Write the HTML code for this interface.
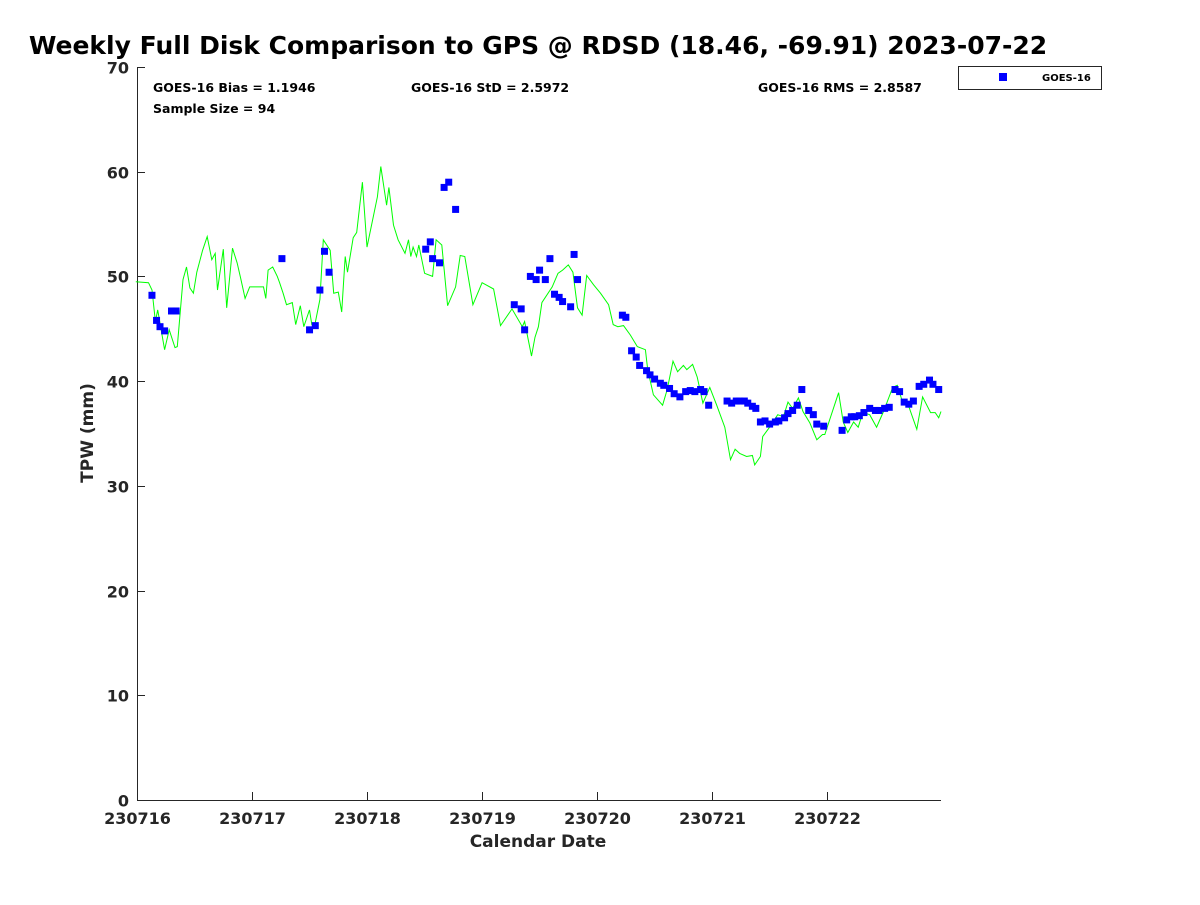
<!DOCTYPE html>
<html><head><meta charset="utf-8"><style>
body{margin:0;background:#fff;}
svg text{font-family:"DejaVu Sans","Liberation Sans",sans-serif;font-weight:bold;fill:#262626;}
</style></head><body>
<svg id="chart" width="1200" height="900" viewBox="0 0 1200 900" xmlns="http://www.w3.org/2000/svg">
<rect width="1200" height="900" fill="#fff"/>
<text x="538" y="54" text-anchor="middle" font-size="25" style="fill:#000">Weekly Full Disk Comparison to GPS @ RDSD (18.46, -69.91) 2023-07-22</text>
<g id="axes"></g>
<text x="153" y="92" font-size="12.5" style="fill:#000">GOES-16 Bias = 1.1946</text>
<text x="153" y="113" font-size="12.5" style="fill:#000">Sample Size = 94</text>
<text x="411" y="92" font-size="12.5" style="fill:#000">GOES-16 StD = 2.5972</text>
<text x="758" y="92" font-size="12.5" style="fill:#000">GOES-16 RMS = 2.8587</text>
<g>
<rect x="958.5" y="66.5" width="143" height="23" fill="#fff" stroke="#262626" stroke-width="1"/>
<rect x="999" y="73" width="8" height="8" fill="#0000ff"/>
<text x="1042" y="81" font-size="10" style="fill:#000">GOES-16</text>
</g>
<text x="538" y="847" text-anchor="middle" font-size="17">Calendar Date</text>
<text transform="translate(93,433) rotate(-90)" text-anchor="middle" font-size="17">TPW (mm)</text>
</svg>
<script>
const xTickLabels=["230716","230717","230718","230719","230720","230721","230722"];
const yTicks=[0,10,20,30,40,50,60,70];
const gpsDays=[-0.01,0.10,0.13,0.16,0.18,0.24,0.28,0.33,0.35,0.40,0.43,0.46,0.49,0.52,0.57,0.61,0.65,0.68,0.70,0.75,0.78,0.83,0.87,0.90,0.94,0.98,1.10,1.12,1.14,1.18,1.22,1.24,1.27,1.30,1.35,1.38,1.42,1.45,1.50,1.52,1.55,1.59,1.62,1.68,1.71,1.75,1.78,1.81,1.83,1.88,1.91,1.96,2.00,2.09,2.12,2.17,2.19,2.23,2.27,2.33,2.36,2.38,2.40,2.43,2.45,2.50,2.57,2.60,2.65,2.70,2.77,2.81,2.85,2.92,3.00,3.10,3.16,3.26,3.35,3.37,3.43,3.46,3.49,3.52,3.61,3.66,3.70,3.75,3.79,3.83,3.87,3.91,3.97,4.03,4.10,4.14,4.18,4.23,4.29,4.35,4.42,4.44,4.49,4.57,4.61,4.66,4.70,4.75,4.78,4.83,4.87,4.92,4.98,5.04,5.11,5.16,5.20,5.24,5.30,5.35,5.37,5.42,5.44,5.50,5.57,5.62,5.66,5.70,5.75,5.79,5.85,5.91,5.96,5.98,6.10,6.14,6.18,6.23,6.27,6.31,6.37,6.43,6.49,6.57,6.61,6.65,6.70,6.78,6.83,6.90,6.94,6.97,6.99];
const gpsTpw=[49.5,49.4,48.7,45.7,46.8,43.0,44.9,43.2,43.3,49.7,50.9,48.9,48.4,50.4,52.5,53.8,51.6,52.2,48.7,52.6,47.0,52.7,51.3,49.9,47.9,49.0,49.0,47.9,50.6,50.9,50.0,49.4,48.4,47.3,47.5,45.4,47.2,45.2,46.8,45.4,45.6,47.8,53.5,52.5,48.4,48.5,46.6,51.9,50.4,53.7,54.2,59.0,52.8,57.6,60.5,56.8,58.5,54.9,53.5,52.2,53.5,51.9,52.8,51.9,53.0,50.3,50.0,53.5,53.0,47.2,49.0,52.0,51.9,47.3,49.4,48.8,45.3,46.9,45.2,45.7,42.4,44.2,45.2,47.5,49.0,50.3,50.6,51.1,50.4,47.0,46.3,50.1,49.2,48.4,47.3,45.4,45.2,45.3,44.4,43.3,43.0,41.1,38.7,37.7,39.2,41.9,40.9,41.5,41.1,41.6,40.4,37.9,39.4,37.7,35.6,32.5,33.5,33.1,32.8,32.9,32.0,32.8,34.7,35.6,36.8,36.6,38.0,37.4,38.4,37.1,36.0,34.4,34.9,34.9,38.9,36.1,35.1,36.1,35.6,37.0,36.8,35.6,37.1,39.4,39.6,38.2,37.9,35.4,38.5,37.0,37.0,36.5,37.1];
const goesDays=[0.13,0.17,0.20,0.24,0.30,0.34,1.26,1.50,1.55,1.59,1.63,1.67,2.51,2.55,2.57,2.63,2.67,2.71,2.77,3.28,3.34,3.37,3.42,3.47,3.50,3.55,3.59,3.63,3.67,3.70,3.77,3.80,3.83,4.22,4.25,4.30,4.34,4.37,4.43,4.46,4.50,4.55,4.58,4.63,4.67,4.72,4.77,4.81,4.85,4.90,4.93,4.97,5.13,5.17,5.21,5.24,5.28,5.31,5.35,5.38,5.42,5.46,5.50,5.55,5.58,5.63,5.66,5.70,5.74,5.78,5.84,5.88,5.91,5.97,6.13,6.17,6.21,6.24,6.28,6.32,6.37,6.42,6.45,6.50,6.54,6.59,6.63,6.67,6.71,6.75,6.80,6.84,6.89,6.92,6.97];
const goesTpw=[48.2,45.8,45.2,44.8,46.7,46.7,51.7,44.9,45.3,48.7,52.4,50.4,52.6,53.3,51.7,51.3,58.5,59.0,56.4,47.3,46.9,44.9,50.0,49.7,50.6,49.7,51.7,48.3,48.0,47.6,47.1,52.1,49.7,46.3,46.1,42.9,42.3,41.5,41.0,40.6,40.2,39.8,39.6,39.3,38.8,38.5,39.0,39.1,39.0,39.2,39.0,37.7,38.1,37.9,38.1,38.1,38.1,37.9,37.6,37.4,36.1,36.2,35.9,36.1,36.2,36.5,36.9,37.2,37.7,39.2,37.2,36.8,35.9,35.7,35.3,36.3,36.6,36.6,36.7,37.0,37.4,37.2,37.2,37.4,37.5,39.2,39.0,38.0,37.8,38.1,39.5,39.7,40.1,39.7,39.2];

const NS="http://www.w3.org/2000/svg";
const L=137,R=941,T=67,B=800,XMAX=6.99,YMAX=70;
const xS=d=>L+d*(R-L)/XMAX;
const yS=v=>B-v*(B-T)/YMAX;
const g=document.getElementById('axes');
function mk(tag,attrs){const e=document.createElementNS(NS,tag);for(const k in attrs)e.setAttribute(k,attrs[k]);return e;}
let ax=mk('path',{d:`M${L+0.5},${T}V${B+0.5}H${R}`,stroke:'#262626',fill:'none','stroke-width':1});


g.appendChild(ax);
yTicks.forEach(v=>{
  const y=Math.round(yS(v))+0.5;
  const t=mk('line',{x1:L,x2:L+8,y1:y,y2:y,stroke:'#262626'});
  
  
  g.appendChild(t);
  const tx=mk('text',{x:L-8,y:y+6,'text-anchor':'end','font-size':16});
  
  
  tx.textContent=v;g.appendChild(tx);
});
xTickLabels.forEach((s,i)=>{
  const x=Math.round(xS(i))+0.5;
  const t=mk('line',{x1:x,x2:x,y1:B,y2:B-8,stroke:'#262626'});
  
  
  g.appendChild(t);
  const tx=mk('text',{x:x,y:824,'text-anchor':'middle','font-size':16});
  
  
  tx.textContent=s;g.appendChild(tx);
});
const pts=gpsDays.map((d,i)=>xS(d).toFixed(1)+','+yS(gpsTpw[i]).toFixed(1)).join(' ');
const line=mk('polyline',{points:pts,fill:'none',stroke:'#00ff00','stroke-width':1});


g.appendChild(line);
goesDays.forEach((d,i)=>{
  const r=mk('rect',{x:xS(d)-3.5,y:yS(goesTpw[i])-3.5,width:7,height:7,fill:'#0000ff'});
  
  
  g.appendChild(r);
});
</script>
</body></html>
